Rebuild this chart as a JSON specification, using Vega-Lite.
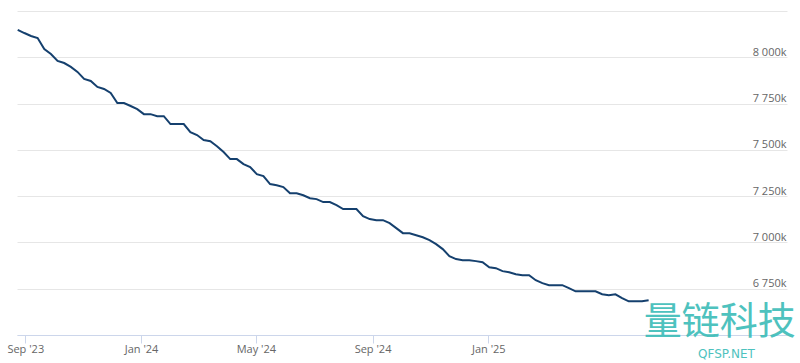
{
  "$schema": "https://vega.github.io/schema/vega-lite/v6.json",
  "width": 770,
  "height": 324,
  "autosize": {"type": "none"},
  "padding": {"left": 17, "top": 11, "right": 13, "bottom": 28},
  "background": "white",
  "config": {
    "view": {"stroke": null},
    "font": "Open Sans",
    "axis": {"labelFont": "Open Sans", "labelFontSize": 11, "labelColor": "#666666"}
  },
  "layer": [
    {
      "data": {
        "values": [
          {"date": "2023-08-24", "value": 8148},
          {"date": "2023-08-31", "value": 8131},
          {"date": "2023-09-07", "value": 8115},
          {"date": "2023-09-14", "value": 8104},
          {"date": "2023-09-21", "value": 8045},
          {"date": "2023-09-28", "value": 8018},
          {"date": "2023-10-05", "value": 7980},
          {"date": "2023-10-12", "value": 7969},
          {"date": "2023-10-19", "value": 7948},
          {"date": "2023-10-26", "value": 7921},
          {"date": "2023-11-02", "value": 7883},
          {"date": "2023-11-09", "value": 7872},
          {"date": "2023-11-16", "value": 7840},
          {"date": "2023-11-23", "value": 7829},
          {"date": "2023-11-30", "value": 7807},
          {"date": "2023-12-07", "value": 7753},
          {"date": "2023-12-14", "value": 7753},
          {"date": "2023-12-21", "value": 7737},
          {"date": "2023-12-28", "value": 7720},
          {"date": "2024-01-04", "value": 7693},
          {"date": "2024-01-11", "value": 7693},
          {"date": "2024-01-18", "value": 7682},
          {"date": "2024-01-25", "value": 7682},
          {"date": "2024-02-01", "value": 7639},
          {"date": "2024-02-08", "value": 7639},
          {"date": "2024-02-15", "value": 7639},
          {"date": "2024-02-22", "value": 7596},
          {"date": "2024-02-29", "value": 7580},
          {"date": "2024-03-07", "value": 7553},
          {"date": "2024-03-14", "value": 7547},
          {"date": "2024-03-21", "value": 7520},
          {"date": "2024-03-28", "value": 7488},
          {"date": "2024-04-04", "value": 7450},
          {"date": "2024-04-11", "value": 7450},
          {"date": "2024-04-18", "value": 7423},
          {"date": "2024-04-25", "value": 7407},
          {"date": "2024-05-02", "value": 7369},
          {"date": "2024-05-09", "value": 7358},
          {"date": "2024-05-16", "value": 7315},
          {"date": "2024-05-23", "value": 7309},
          {"date": "2024-05-30", "value": 7299},
          {"date": "2024-06-06", "value": 7266},
          {"date": "2024-06-13", "value": 7266},
          {"date": "2024-06-20", "value": 7255},
          {"date": "2024-06-27", "value": 7239},
          {"date": "2024-07-04", "value": 7234},
          {"date": "2024-07-11", "value": 7218},
          {"date": "2024-07-18", "value": 7218},
          {"date": "2024-07-25", "value": 7201},
          {"date": "2024-08-01", "value": 7180},
          {"date": "2024-08-08", "value": 7180},
          {"date": "2024-08-15", "value": 7180},
          {"date": "2024-08-22", "value": 7142},
          {"date": "2024-08-29", "value": 7126},
          {"date": "2024-09-05", "value": 7120},
          {"date": "2024-09-12", "value": 7120},
          {"date": "2024-09-19", "value": 7104},
          {"date": "2024-09-26", "value": 7077},
          {"date": "2024-10-03", "value": 7050},
          {"date": "2024-10-10", "value": 7050},
          {"date": "2024-10-17", "value": 7039},
          {"date": "2024-10-24", "value": 7028},
          {"date": "2024-10-31", "value": 7012},
          {"date": "2024-11-07", "value": 6991},
          {"date": "2024-11-14", "value": 6964},
          {"date": "2024-11-21", "value": 6926},
          {"date": "2024-11-28", "value": 6910},
          {"date": "2024-12-05", "value": 6904},
          {"date": "2024-12-12", "value": 6904},
          {"date": "2024-12-19", "value": 6899},
          {"date": "2024-12-26", "value": 6893},
          {"date": "2025-01-02", "value": 6866},
          {"date": "2025-01-09", "value": 6861},
          {"date": "2025-01-16", "value": 6845},
          {"date": "2025-01-23", "value": 6839},
          {"date": "2025-01-30", "value": 6828},
          {"date": "2025-02-06", "value": 6823},
          {"date": "2025-02-13", "value": 6823},
          {"date": "2025-02-20", "value": 6796},
          {"date": "2025-02-27", "value": 6780},
          {"date": "2025-03-06", "value": 6769},
          {"date": "2025-03-13", "value": 6769},
          {"date": "2025-03-20", "value": 6769},
          {"date": "2025-03-27", "value": 6753},
          {"date": "2025-04-03", "value": 6736},
          {"date": "2025-04-10", "value": 6736},
          {"date": "2025-04-17", "value": 6736},
          {"date": "2025-04-24", "value": 6736},
          {"date": "2025-05-01", "value": 6720},
          {"date": "2025-05-08", "value": 6715},
          {"date": "2025-05-15", "value": 6720},
          {"date": "2025-05-22", "value": 6699},
          {"date": "2025-05-29", "value": 6682},
          {"date": "2025-06-05", "value": 6682},
          {"date": "2025-06-12", "value": 6682},
          {"date": "2025-06-19", "value": 6688}
        ]
      },
      "mark": {"type": "line", "color": "#15406e", "strokeWidth": 2, "clip": false},
      "encoding": {
        "x": {
          "field": "date",
          "type": "temporal",
          "scale": {
            "type": "utc",
            "domain": [
              {"year": 2023, "month": 8, "date": 23, "hours": 6, "utc": true},
              {"year": 2025, "month": 11, "date": 11, "hours": 20, "utc": true}
            ]
          },
          "axis": {
            "title": null,
            "format": "%b '%y",
            "values": [
              {"year": 2023, "month": 9, "date": 1, "utc": true},
              {"year": 2024, "month": 1, "date": 1, "utc": true},
              {"year": 2024, "month": 5, "date": 1, "utc": true},
              {"year": 2024, "month": 9, "date": 1, "utc": true},
              {"year": 2025, "month": 1, "date": 1, "utc": true}
            ],
            "grid": false,
            "domainColor": "#ccd6eb",
            "tickColor": "#ccd6eb",
            "tickSize": 8,
            "labelPadding": 0,
            "labelFlush": false,
            "labelOverlap": false
          }
        },
        "y": {
          "field": "value",
          "type": "quantitative",
          "scale": {"domain": [6500, 8250], "nice": false, "zero": false},
          "axis": {
            "title": null,
            "orient": "right",
            "values": [6500, 6750, 7000, 7250, 7500, 7750, 8000, 8250],
            "grid": true,
            "gridColor": "#e6e6e6",
            "domain": false,
            "ticks": false,
            "tickSize": 0,
            "labelAlign": "right",
            "labelBaseline": "alphabetic",
            "labelOffset": -2,
            "labelPadding": -1,
            "labelExpr": "datum.value >= 8250 || datum.value <= 6500 ? '' : replace(format(datum.value, ','), ',', ' ') + 'k'"
          }
        }
      }
    },
    {
      "data": {"values": [{"label": "量链科技"}]},
      "mark": {"type": "text", "font": "Noto Sans CJK SC", "fontSize": 38, "color": "#3bbcb8", "align": "center", "baseline": "middle", "opacity": 0.9},
      "encoding": {
        "text": {"field": "label"},
        "x": {"datum": {"year": 2025, "month": 9, "date": 2, "utc": true}, "type": "temporal"},
        "y": {"datum": 6565, "type": "quantitative"}
      }
    },
    {
      "data": {"values": [{"label": "QFSP.NET"}]},
      "mark": {"type": "text", "font": "DejaVu Sans", "fontSize": 12, "color": "#3bbcb8", "align": "center", "baseline": "middle", "opacity": 0.9},
      "encoding": {
        "text": {"field": "label"},
        "x": {"datum": {"year": 2025, "month": 9, "date": 9, "utc": true}, "type": "temporal"},
        "y": {"datum": 6398, "type": "quantitative"}
      }
    }
  ]
}
